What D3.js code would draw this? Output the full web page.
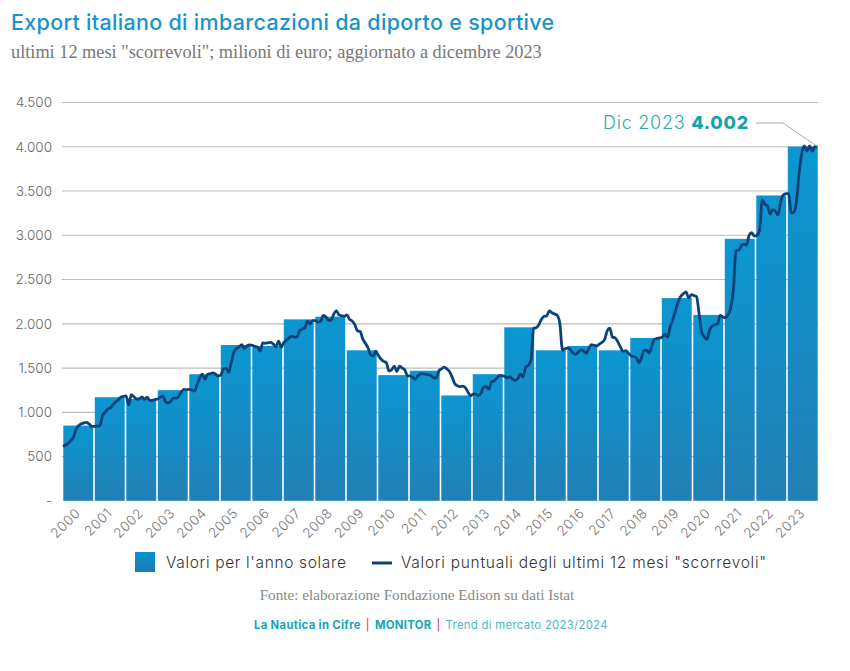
<!DOCTYPE html>
<html><head><meta charset="utf-8">
<script src="https://cdnjs.cloudflare.com/ajax/libs/d3/7.8.5/d3.min.js"></script>
<style>html,body{margin:0;padding:0;background:#fff}svg{display:block}text{font-family:Inter,"Open Sans",sans-serif}</style>
</head><body><svg id="c" width="850" height="671"></svg>
<script>
const years=[2000,2001,2002,2003,2004,2005,2006,2007,2008,2009,2010,2011,2012,2013,2014,2015,2016,2017,2018,2019,2020,2021,2022,2023];
const annual=[850,1170,1150,1250,1430,1760,1750,2050,2080,1700,1420,1470,1190,1430,1960,1700,1750,1700,1840,2290,2100,2960,3450,4002];
const rolling=[
613,630,650,680,720,810,850,870,880,885,865,840,
840,845,845,960,1000,1035,1050,1085,1115,1140,1170,1180,
1185,1085,1200,1175,1150,1150,1175,1145,1170,1135,1135,1145,
1150,1170,1185,1120,1105,1125,1160,1160,1180,1230,1260,1255,
1260,1250,1240,1310,1390,1430,1375,1430,1435,1445,1430,1410,
1420,1490,1500,1450,1560,1680,1720,1740,1765,1720,1750,1760,
1755,1745,1735,1690,1785,1780,1785,1790,1770,1740,1805,1735,
1790,1815,1840,1860,1850,1850,1920,1940,1955,2030,2000,2035,
2035,2015,2030,2095,2080,2040,2040,2110,2145,2100,2090,2085,
2100,2050,2030,1990,1920,1915,1830,1780,1730,1650,1635,1690,
1640,1600,1575,1560,1465,1480,1520,1460,1520,1500,1480,1415,
1410,1395,1375,1410,1435,1435,1430,1425,1415,1390,1390,1470,
1490,1510,1490,1460,1400,1325,1300,1290,1295,1280,1230,1185,
1205,1205,1190,1215,1285,1290,1260,1345,1355,1385,1415,1415,
1405,1390,1400,1375,1360,1380,1430,1400,1510,1530,1590,1950,
1955,1990,2050,2085,2090,2145,2125,2110,2095,2000,1700,1720,
1725,1710,1670,1655,1680,1705,1695,1665,1720,1765,1755,1750,
1770,1790,1820,1920,1950,1850,1840,1800,1740,1690,1695,1670,
1640,1630,1620,1560,1610,1700,1700,1670,1750,1825,1835,1840,
1850,1880,1850,1970,2050,2150,2250,2310,2340,2360,2290,2330,
2320,2305,2100,1900,1850,1825,1935,1975,1990,2000,2095,2075,
2070,2100,2180,2380,2830,2830,2880,2900,2890,3000,3030,2990,
3000,3060,3400,3350,3330,3240,3290,3270,3230,3380,3455,3470,
3470,3250,3260,3380,3700,3920,4010,3950,4010,3950,4000,4002];
const yTicks=[0,500,1000,1500,2000,2500,3000,3500,4000,4500];
const months=d3.range(rolling.length);

const svg=d3.select("#c");
const defs=svg.append("defs");
const g=defs.append("linearGradient").attr("id","bar").attr("x1",0).attr("y1",0).attr("x2",0).attr("y2",1);
g.append("stop").attr("offset","0%").attr("stop-color","#0393d0");
g.append("stop").attr("offset","100%").attr("stop-color","#1a7cb2");

const x=d3.scaleBand().domain(years).range([62.5,818.5]).paddingInner(0.05).paddingOuter(0.025);
const y=d3.scaleLinear().domain([0,4500]).range([500.8,102.5]);
const xm=d3.scaleLinear().domain([0,rolling.length-1]).range([63,817.5]);
const loc=d3.formatLocale({decimal:",",thousands:".",grouping:[3],currency:["","€"]});
const fmt=loc.format(",");

svg.append("g").selectAll("line").data(yTicks.filter(d=>d>0)).join("line")
 .attr("x1",62).attr("x2",818).attr("y1",d=>y(d)).attr("y2",d=>y(d))
 .attr("stroke","#bdbdbd").attr("stroke-width",1.2);
const ya=svg.append("g").attr("transform","translate(52,0)")
 .call(d3.axisLeft(y).tickValues(yTicks).tickSize(0).tickPadding(0).tickFormat(d=>d===0?"-":fmt(d)));
ya.select(".domain").remove();
ya.selectAll("text").attr("font-size",13.5).attr("font-weight",300).attr("fill","#666").style("font-family","Inter");
svg.append("g").selectAll("rect").data(years).join("rect")
 .attr("x",d=>x(d)).attr("width",x.bandwidth())
 .attr("y",(d,i)=>y(annual[i])).attr("height",(d,i)=>y(0)-y(annual[i]))
 .attr("fill","url(#bar)").attr("fill-opacity",0.97);
const xa=svg.append("g").attr("transform","translate(0,501)")
 .call(d3.axisBottom(x).tickSize(0).tickPadding(0).tickFormat(d3.format("d")));
xa.select(".domain").remove();
xa.selectAll("text").attr("font-size",13.5).attr("font-weight",300).attr("fill","#777").attr("letter-spacing",0.5)
 .attr("text-anchor","end").attr("dy",0)
 .attr("transform","translate(3,13) rotate(-45)").attr("y",0).attr("x",0);
svg.append("path").attr("d",d3.line().x(d=>xm(d)).y(d=>y(rolling[d])).curve(d3.curveMonotoneX)(months))
 .attr("fill","none").attr("stroke","#0d4279").attr("stroke-width",2.8).attr("stroke-linejoin","round");
svg.append("path").attr("d",d3.line()([[756,123],[783,123],[xm(months[months.length-1]),y(rolling[rolling.length-1])]]))
 .attr("fill","none").attr("stroke","#aaa").attr("stroke-width",1);
const an=svg.append("text").attr("x",603).attr("y",129).attr("font-size",18).attr("fill","#2fa9b0").attr("font-weight",300).attr("letter-spacing",0.75);
an.append("tspan").text("Dic 2023 ");
an.append("tspan").attr("font-weight",800).attr("fill","#14a3a8").text(fmt(4002));
svg.append("text").attr("x",11).attr("y",30).attr("font-size",21.5).attr("font-weight",500).attr("letter-spacing",0.3).attr("fill","#1a93c6").text("Export italiano di imbarcazioni da diporto e sportive");
svg.append("text").attr("x",11).attr("y",58).attr("font-size",18.3).attr("fill","#777").style("font-family","Liberation Serif").text("ultimi 12 mesi \"scorrevoli\"; milioni di euro; aggiornato a dicembre 2023");
svg.append("rect").attr("x",135).attr("y",552).attr("width",20).attr("height",20).attr("fill","url(#bar)");
svg.append("text").attr("x",166).attr("y",568).attr("font-size",15.5).attr("font-weight",300).attr("letter-spacing",0.65).attr("fill","#333").text("Valori per l'anno solare");
svg.append("line").attr("x1",372).attr("x2",392).attr("y1",563).attr("y2",563).attr("stroke","#0d4279").attr("stroke-width",3);
svg.append("text").attr("x",401).attr("y",568).attr("font-size",15.5).attr("font-weight",300).attr("letter-spacing",0.72).attr("fill","#333").text("Valori puntuali degli ultimi 12 mesi \"scorrevoli\"");
svg.append("text").attr("x",417).attr("y",600).attr("text-anchor","middle").attr("font-size",15.2).attr("fill","#888").style("font-family","Liberation Serif").text("Fonte: elaborazione Fondazione Edison su dati Istat");
const ft=svg.append("text").attr("x",254).attr("y",629).attr("font-size",11.3).attr("letter-spacing",0.32).attr("fill","#17a5b4");
ft.append("tspan").attr("font-weight",700).text("La Nautica in Cifre");
ft.append("tspan").attr("fill","#d6246e").attr("dx",5).text("|");
ft.append("tspan").attr("font-weight",700).attr("dx",5).text("MONITOR");
ft.append("tspan").attr("fill","#d6246e").attr("dx",5).text("|");
ft.append("tspan").attr("font-weight",400).attr("fill","#4db5c2").attr("dx",5).text("Trend di mercato 2023/2024");
</script></body></html>
